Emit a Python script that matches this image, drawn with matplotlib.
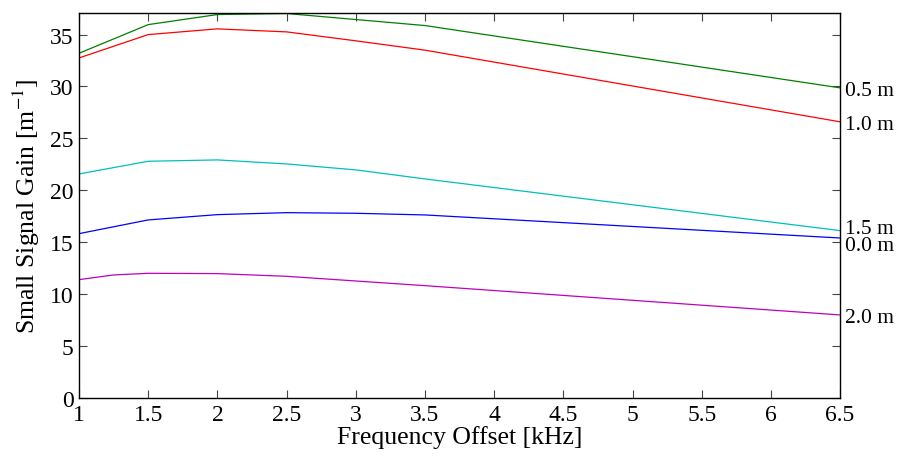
import numpy as np
import matplotlib
matplotlib.use("Agg")
import matplotlib.pyplot as plt

# frequency offsets [kHz]
freq = [1.0, 1.5, 2.0, 2.5, 3.0, 3.5, 6.5]
freq_2m = [1.0, 1.25, 1.5, 2.0, 2.5, 3.5, 6.5]

# small signal gain [1/m] for each position
gain_0_0 = [15.83, 17.15, 17.66, 17.85, 17.79, 17.63, 15.41]
gain_0_5 = [33.2, 35.96, 36.93, 37.03, 36.45, 35.87, 29.87]
gain_1_0 = [32.75, 35.0, 35.55, 35.26, 34.4, 33.5, 26.6]
gain_1_5 = [21.58, 22.8, 22.93, 22.54, 21.97, 21.1, 16.12]
gain_2_0 = [11.4, 11.85, 12.01, 11.98, 11.72, 10.82, 8.0]

labels = ["0.0 m", "0.5 m", "1.0 m", "1.5 m", "2.0 m"]

plt.rcParams["font.family"] = ["Liberation Serif", "DejaVu Serif"]
plt.rcParams["mathtext.fontset"] = "stix"

fig = plt.figure(figsize=(8.98, 4.6), dpi=100)
ax = fig.add_axes([0.088, 0.1326, 0.8475, 0.837])

series = [
    (freq, gain_0_0, (0, 0, 1), -0.5),
    (freq, gain_0_5, (0, 0.5, 0), 0.0),
    (freq, gain_1_0, (1, 0, 0), 0.0),
    (freq, gain_1_5, (0, 0.75, 0.75), 0.4),
    (freq_2m, gain_2_0, (0.75, 0, 0.75), 0.0),
]

for (x, y, c, nudge), lab in zip(series, labels):
    ax.plot(x, y, color=c, lw=0.9)
    ax.text(6.535, y[-1] + nudge - 0.22, lab, fontsize=15.5, va="center",
            ha="left", clip_on=False)

ax.set_xlim(1, 6.5)
ax.set_ylim(0, max(gain_0_5) + 0.05)
ax.set_xticks(np.arange(1, 6.51, 0.5))
ax.set_xticklabels(["1", "1.5", "2", "2.5", "3", "3.5", "4", "4.5",
                    "5", "5.5", "6", "6.5"])
ax.set_yticks(np.arange(0, 36, 5))
ax.tick_params(direction="in", top=True, right=True, length=6, width=0.8,
               labelsize=17, color="#444444", pad=4)
for s in ax.spines.values():
    s.set_linewidth(1.0)

ax.set_xlabel("Frequency Offset [kHz]", fontsize=18.5, labelpad=0)
ax.set_ylabel("Small Signal Gain [m$^{-1}$]", fontsize=18.5, labelpad=6)

fig.savefig("out.png", dpi=100)
